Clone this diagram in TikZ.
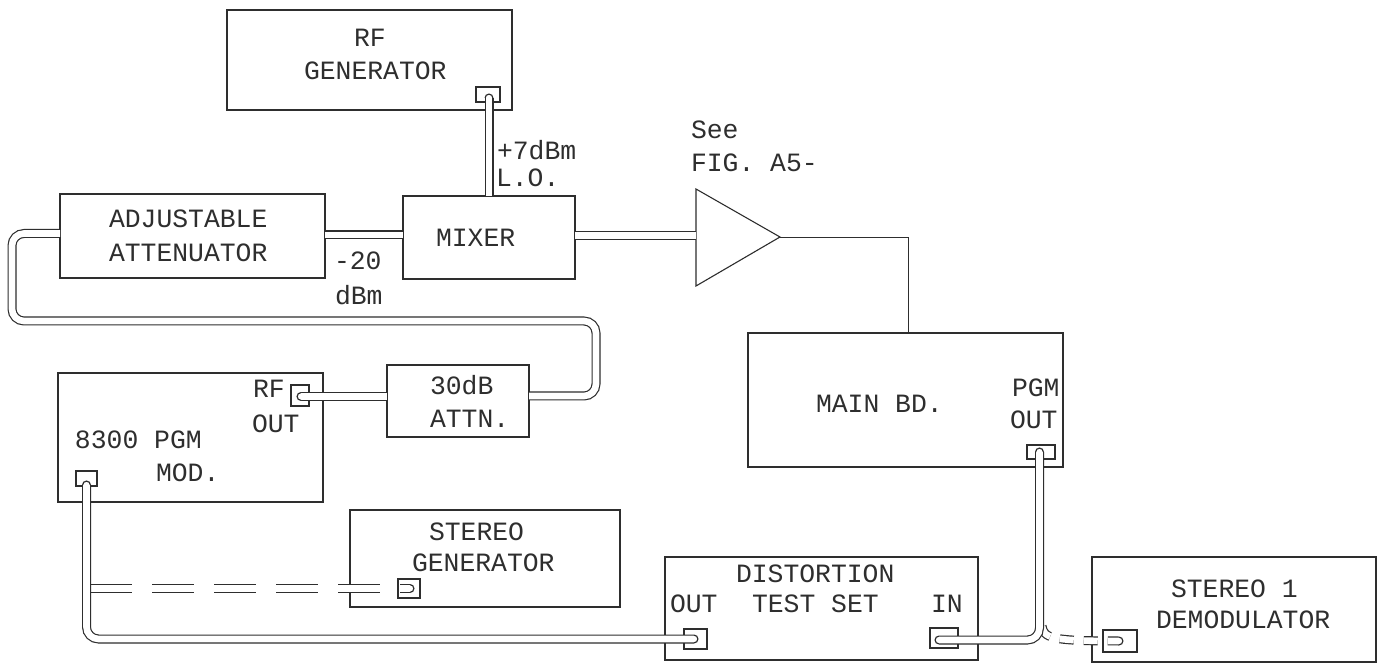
\documentclass[tikz,border=0pt]{standalone}
\usepackage{fontspec}
\setmainfont{Liberation Mono}
\definecolor{ink}{HTML}{2E2E2E}
\newcommand{\boxn}[6][unitbox]{\node[#1,minimum width={(#5-#3)*0.5pt},minimum height={(#6-#4)*0.5pt}] (#2) at ({(#3+#5)/2},{(#4+#6)/2}) {};}
\newcommand{\lab}[4]{\node[txt] (#1) at (#2,#3) {#4};}
\newcommand{\cableend}[2]{\draw[capend] (#1) ++({#2-90}:3.9) arc[start angle={#2-90},end angle={#2+90},radius=3.9];}
\tikzset{
  unitbox/.style={draw=ink,line width=0.55pt,inner sep=0pt,outer sep=0pt,rectangle},
  portbox/.style={unitbox},
  txt/.style={anchor=base west,inner sep=0pt,outer sep=0pt,text=ink,font=\fontsize{13.2pt}{15pt}\selectfont},
  cable/.style={draw=ink,line width=0.6pt,double=white,double distance=3.3pt,line cap=butt,rounded corners=6pt},
  dashcable/.style={cable,dash pattern=on 21pt off 10pt},
  shortdash/.style={cable,dash pattern=on 7pt off 5pt},
  capend/.style={draw=ink,fill=white,line width=0.6pt},
  wire/.style={draw=ink,line width=0.45pt}
}
\begin{document}
\begin{tikzpicture}[x=0.5pt,y=-0.5pt]
\useasboundingbox (0,0) rectangle (1378,663);
\fill[white] (0,0) rectangle (1378,663);
% units
\boxn{rfgen}{227}{10}{512}{110}
\boxn{mixer}{403}{196}{575}{279}
\boxn{att}{60}{194}{325}{278}
\boxn{mainbd}{748}{333}{1063}{467}
\boxn{pgmmod}{58}{373}{323}{502}
\boxn{attn}{387}{365}{529}{437}
\boxn{stgen}{350}{510}{620}{607}
\boxn{dist}{665}{557}{978}{660}
\boxn{demod}{1092}{557}{1376}{662}
% ports
\boxn[portbox]{prf}{476}{87}{500}{102}
\boxn[portbox]{ppgm}{1027}{445}{1055}{459}
\boxn[portbox]{pin}{930}{628}{958}{648}
\boxn[portbox]{pout}{684}{629}{707}{649}
\boxn[portbox]{pmod}{76}{471}{97}{486}
\boxn[portbox]{prfo}{291}{385}{309}{406}
\boxn[portbox]{pst}{398}{579}{420}{598}
\boxn[portbox]{pdem}{1103}{630}{1137}{652}
% amplifier
\coordinate (ampa) at (696,189);
\coordinate (ampb) at (696,286);
\coordinate (amptip) at (780,237);
\draw[unitbox] (ampa) -- (amptip) -- (ampb) -- cycle;
% way points
\coordinate (e1) at (489,98);
\coordinate (e1b) at (489,196);
\coordinate (a1) at (325,235);
\coordinate (a2) at (403,235);
\coordinate (m1) at (575,235.5);
\coordinate (m2) at (696,235.5);
\coordinate (w1) at (908,237);
\coordinate (w2) at (908,333);
\coordinate (r1) at (529,396);
\coordinate (r2) at (596,396);
\coordinate (r3) at (596,321);
\coordinate (r4) at (12,321);
\coordinate (r5) at (12,233.5);
\coordinate (r6) at (60,233.5);
\coordinate (o1) at (301,396.5);
\coordinate (o2) at (387,396.5);
\coordinate (c1) at (86.5,485);
\coordinate (c2) at (86.5,639);
\coordinate (c3) at (694,639);
\coordinate (g1) at (90,588.5);
\coordinate (g2) at (410,588.5);
\coordinate (p1) at (1039.5,452);
\coordinate (p2) at (1039.5,640);
\coordinate (p3) at (939,640);
\coordinate (d1) at (1042,626);
\coordinate (d2) at (1119,641);
% wires
\draw[wire] (amptip) -- (w1) -- (w2);
% cables
\draw[cable] (e1) -- (e1b);
\draw[cable] (a1) -- (a2);
\draw[cable] (m1) -- (m2);
\draw[cable] (r1) -- (r2) -- (r3) -- (r4) -- (r5) -- (r6);
\draw[cable] (o1) -- (o2);
\draw[dashcable] (g1) -- (g2);
\draw[shortdash] (d1) .. controls (1044,638) and (1050,641) .. (d2);
\draw[cable] (c1) -- (c2) -- (c3);
\draw[cable] (p1) -- (p2) -- (p3);
\cableend{e1}{270}
\cableend{o1}{180}
\cableend{c1}{270}
\cableend{c3}{0}
\cableend{g2}{0}
\cableend{p1}{270}
\cableend{p3}{180}
\cableend{d2}{0}
% labels
\lab{t1}{354}{47}{RF}
\lab{t2}{304}{80}{GENERATOR}
\lab{t3}{497}{160}{+7dBm}
\lab{t4}{496}{187}{L.O.}
\lab{t5}{691}{139}{See}
\lab{t6}{691}{172}{FIG. A5-}
\lab{t7}{109}{228}{ADJUSTABLE}
\lab{t8}{109}{262}{ATTENUATOR}
\lab{t9}{436}{247}{MIXER}
\lab{t10}{334}{270}{-20}
\lab{t11}{335}{305}{dBm}
\lab{t12}{430}{395}{30dB}
\lab{t13}{430}{428}{ATTN.}
\lab{t14}{253}{398}{RF}
\lab{t15}{252}{433}{OUT}
\lab{t16}{75}{449}{8300 PGM}
\lab{t17}{156}{482}{MOD.}
\lab{t18}{816}{413}{MAIN BD.}
\lab{t19}{1012}{397}{PGM}
\lab{t20}{1010}{429}{OUT}
\lab{t21}{429}{540}{STEREO}
\lab{t22}{412}{572}{GENERATOR}
\lab{t23}{736}{582}{DISTORTION}
\lab{t24}{670}{612}{OUT}
\lab{t25}{752}{612}{TEST SET}
\lab{t26}{931}{612}{IN}
\lab{t27}{1171}{597}{STEREO 1}
\lab{t28}{1156}{628}{DEMODULATOR}
\end{tikzpicture}
\end{document}
